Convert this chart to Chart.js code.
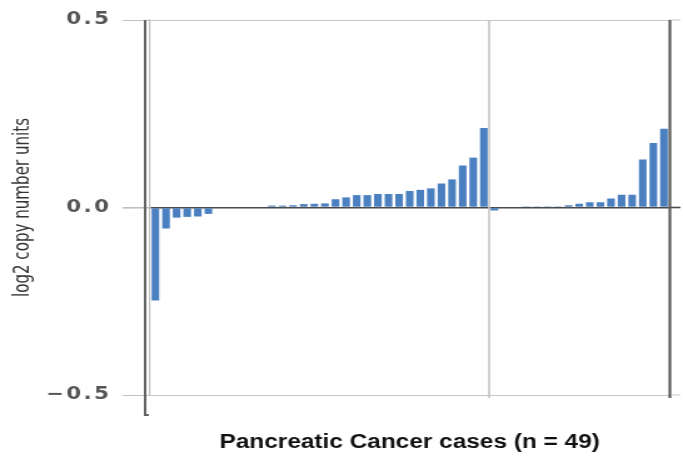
<!DOCTYPE html>
<html>
<head>
<meta charset="utf-8">
<title>Pancreatic Cancer copy number</title>
<script src="https://cdn.jsdelivr.net/npm/chart.js@4/dist/chart.umd.min.js"></script>
<style>
    html, body { margin: 0; padding: 0; background: #fff; overflow: hidden; }
</style>
</head>
<body>
<!-- the source figure is stretched sideways, so draw narrow and widen with inline css -->
<canvas id="cnv-chart" width="546" height="461" style="width:683px;height:461px"></canvas>
<script>
// Case ids along the x axis (49 cases)
const caseLabels = ['1','2','3','4','5','6','7','8','9','10','11','12','13','14','15','16','17',
    '18','19','20','21','22','23','24','25','26','27','28','29','30','31','32','33','34','35',
    '36','37','38','39','40','41','42','43','44','45','46','47','48','49'];

// log2 copy number, first group of cases (left of the divider)
const leftValues = [-0.248, -0.056, -0.027, -0.025, -0.024, -0.017, 0, 0, 0, 0, 0,
    0.005, 0.005, 0.006, 0.009, 0.010, 0.011, 0.022, 0.027, 0.033, 0.033, 0.036, 0.036,
    0.036, 0.044, 0.047, 0.051, 0.064, 0.075, 0.112, 0.133, 0.212];

// second group of cases (right of the divider)
const rightValues = [-0.008, 0, 0, 0.003, 0.003, 0.003, 0.003, 0.006, 0.010, 0.014,
    0.014, 0.024, 0.034, 0.034, 0.128, 0.172, 0.210];

// y axis ticks
const yTicks = [-0.5, 0, 0.5];

const barColor = '#4a7fc0';

// Extra frame lines: group divider, dark edges, gridline run-out on the right
const frameLines = {
    id: 'frameLines',
    afterDatasetsDraw(chart) {
        const { ctx, chartArea, scales } = chart;
        const x = scales.x;
        const y = scales.y;
        const top = y.getPixelForValue(0.5);
        const bottom = y.getPixelForValue(-0.5);

        const line = (x1, y1, x2, y2) => {
            ctx.beginPath();
            ctx.moveTo(x1, y1);
            ctx.lineTo(x2, y2);
            ctx.stroke();
        };

        ctx.save();

        // gridlines continue a little past the plot
        yTicks.forEach(v => {
            const py = y.getPixelForValue(v);
            ctx.strokeStyle = v === 0 ? '#4a4a4a' : '#c8c8c8';
            ctx.lineWidth = v === 0 ? 1.6 : 1;
            line(chartArea.right, py, chart.width - 2, py);
        });

        // light divider between the two groups
        const n = leftValues.length;
        const sep = (x.getPixelForValue(n - 1) + x.getPixelForValue(n)) / 2;
        ctx.strokeStyle = '#c4c4c4';
        ctx.lineWidth = 1.6;
        line(sep, top, sep, bottom + 3);

        // dark right edge
        ctx.strokeStyle = '#5a5a5a';
        ctx.lineWidth = 2.2;
        line(chartArea.right + 0.5, top, chartArea.right + 0.5, bottom + 3);

        // dark bracket left of the axis
        const lx = chartArea.left - 4;
        ctx.strokeStyle = '#666';
        ctx.lineWidth = 2;
        ctx.beginPath();
        ctx.moveTo(lx, top);
        ctx.lineTo(lx, bottom + 20);
        ctx.lineTo(lx + 3, bottom + 20);
        ctx.stroke();

        ctx.restore();

        // the y tick labels are drawn after this (ticks.z = 1), spaced out like the source
        ctx.letterSpacing = '2px';
    },
    afterDraw(chart) {
        chart.ctx.letterSpacing = '0px';
    }
};

function formatTick(v) {
    if (v < 0) return '\u2212' + Math.abs(v).toFixed(1);
    return v.toFixed(1);
}

function buildChart() {
    const ctx = document.getElementById('cnv-chart').getContext('2d');

    new Chart(ctx, {
        type: 'bar',
        data: {
            labels: caseLabels,
            datasets: [{
                data: [...leftValues, ...rightValues],
                backgroundColor: barColor,
                borderWidth: 0,
                barPercentage: 0.72,
                categoryPercentage: 1.0
            }]
        },
        options: {
            responsive: false,
            devicePixelRatio: 1,
            animation: false,
            layout: {
                padding: { top: 20, right: 11, left: 0, bottom: 0 }
            },
            plugins: {
                legend: { display: false },
                tooltip: { enabled: false }
            },
            scales: {
                x: {
                    ticks: { display: false },
                    grid: { display: false },
                    border: { display: false },
                    title: {
                        display: true,
                        text: 'Pancreatic Cancer cases (n = 49)',
                        color: '#111',
                        font: { family: 'Liberation Sans, Arial, sans-serif', size: 19.5, weight: 'bold' },
                        padding: { top: 0, bottom: 7 }
                    },
                    afterFit: scale => { scale.height = 66; }
                },
                y: {
                    min: -0.5,
                    max: 0.5,
                    afterBuildTicks: scale => {
                        scale.ticks = yTicks.map(v => ({ value: v }));
                    },
                    ticks: {
                        z: 1,
                        callback: v => formatTick(v),
                        color: '#555',
                        padding: 9,
                        font: { family: 'DejaVu Sans', size: 17, weight: 'bold' }
                    },
                    grid: {
                        color: ctx => ctx.tick && ctx.tick.value === 0 ? '#4a4a4a' : '#c8c8c8',
                        lineWidth: ctx => ctx.tick && ctx.tick.value === 0 ? 1.6 : 1,
                        tickColor: '#c0c0c0',
                        tickLength: 22
                    },
                    border: { display: true, color: '#c0c0c0', width: 1.2 },
                    title: {
                        display: true,
                        text: 'log2 copy number units',
                        color: '#333',
                        font: { family: '"Liberation Sans Narrow", "DejaVu Sans Condensed", sans-serif', size: 16.8 },
                        padding: { top: 9, bottom: 0 }
                    },
                    afterFit: scale => { scale.width = 120; }
                }
            }
        },
        plugins: [frameLines]
    });
}

buildChart();
</script>
</body>
</html>
